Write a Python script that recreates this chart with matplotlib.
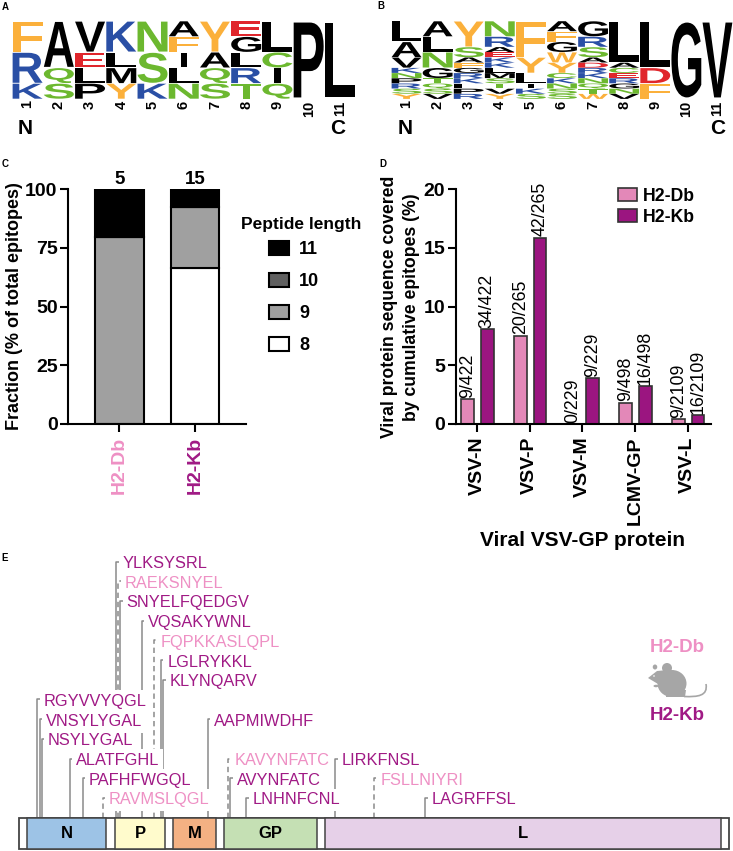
import matplotlib
matplotlib.use('Agg')
import matplotlib.pyplot as plt
from matplotlib.font_manager import FontProperties
from matplotlib.patches import PathPatch, Rectangle, Ellipse, Polygon
from matplotlib.path import Path
from matplotlib.textpath import TextPath
from matplotlib.transforms import Affine2D

plt.rcParams['font.family'] = ['Liberation Sans', 'DejaVu Sans']

W, H = 733, 851

# panel A, letters from top to bottom, counts out of 5 peptides
a_letters = ["FRK", "AQS", "VELP", "KLMY", "NSK", "AFILN", "YAQS", "EGLRT", "LCIQ", "P", "L"]
a_counts = [[2, 2, 1], [3, 1, 1], [2, 1, 1, 1], [2, 1, 1, 1], [2, 2, 1], [1, 1, 1, 1, 1],
            [2, 1, 1, 1], [1, 1, 1, 1, 1], [2, 1, 1, 1], [5], [5]]

# panel B, counts out of 15 peptides
b_letters = ["LAVKNPRSY", "ALNGTQSV", "YSAFGRKLPR", "NRAEKKLMSTVY", "FYLIKS", "AFGWYCKNSS",
             "GRSADRKNQTW", "LACERGNV", "LDF", "G", "V"]
b_counts = [[4, 3, 2, 1, 1, 1, 1, 1, 1], [3, 3, 3, 2, 1, 1, 1, 1],
            [5, 2, 1, 1, 1, 1, 1, 1, 1, 1], [3, 2, 1, 1, 1, 1, 1, 1, 1, 1, 1, 1],
            [7, 3, 2, 1, 1, 1], [2, 2, 2, 2, 2, 1, 1, 1, 1, 1],
            [3, 2, 2, 1, 1, 1, 1, 1, 1, 1, 1], [8, 1, 1, 1, 1, 1, 1, 1], [9, 3, 3], [15], [15]]

# panel C
alleles = ['H2-Db', 'H2-Kb']
epitope_n = [5, 15]
lengths = ['8', '9', '10', '11']
fractions = {'8': [0, 66.5], '9': [79.5, 26], '10': [0, 0], '11': [20.5, 7.5]}
length_colors = {'8': 'white', '9': '#a0a0a0', '10': '#606060', '11': 'black'}

# panel D
proteins = ['VSV-N', 'VSV-P', 'VSV-M', 'LCMV-GP', 'VSV-L']
cover_db = [2.1, 7.5, 0, 1.8, 0.4]
cover_kb = [8.05, 15.85, 3.9, 3.2, 0.75]
labels_db = ['9/422', '20/265', '0/229', '9/498', '9/2109']
labels_kb = ['34/422', '42/265', '9/229', '16/498', '16/2109']

# panel E
seg_names = ['N', 'P', 'M', 'GP', 'L']
seg_start = [27, 115, 173, 224, 325]
seg_end = [106, 165, 216, 317, 721]
seg_colors = ['#9dc3e6', '#fffbcc', '#f4b183', '#c5e0b4', '#e6d0e8']
pep_names = ['YLKSYSRL', 'RAEKSNYEL', 'SNYELFQEDGV', 'VQSAKYWNL', 'FQPKKASLQPL', 'LGLRYKKL', 'KLYNQARV',
             'RGYVVYQGL', 'VNSYLYGAL', 'NSYLYGAL', 'ALATFGHL', 'PAFHFWGQL', 'RAVMSLQGL',
             'AAPMIWDHF', 'KAVYNFATC', 'AVYNFATC', 'LNHNFCNL', 'LIRKFNSL', 'FSLLNIYRI', 'LAGRFFSL']
pep_allele = ['Kb', 'Db', 'Kb', 'Kb', 'Db', 'Kb', 'Kb', 'Kb', 'Kb', 'Kb', 'Kb', 'Kb', 'Db',
              'Kb', 'Db', 'Kb', 'Kb', 'Kb', 'Db', 'Kb']
pep_site = [116, 118, 120, 141.5, 153.7, 160.7, 163, 37.3, 39.5, 41.5, 69.5, 82.5, 102.5,
            207.7, 227.7, 230.3, 246, 335, 374, 425]
pep_level = [12, 11, 10, 9, 8, 7, 6, 5, 4, 3, 2, 1, 0, 4, 2, 1, 0, 2, 1, 0]

PINK = '#e388b8'
PURPLE = '#9b1580'
TXT_PINK = '#ee90c4'
TXT_PURPLE = '#a01a85'
letter_colors = {}
for c in 'FYW':
    letter_colors[c] = '#fbb03b'
for c in 'ALVGIMP':
    letter_colors[c] = 'black'
for c in 'RKH':
    letter_colors[c] = '#2a4fa5'
for c in 'NSQCT':
    letter_colors[c] = '#6cb82f'
for c in 'ED':
    letter_colors[c] = '#e0262c'

fig = plt.figure(figsize=(W / 100, H / 100), dpi=100)


def px_axes(left, top, right, bottom):
    return fig.add_axes([left / W, 1 - bottom / H, (right - left) / W, (bottom - top) / H])


def px_text(x, y, s, **kw):
    kw.setdefault('ha', 'center')
    kw.setdefault('va', 'center')
    return fig.text(x / W, 1 - y / H, s, **kw)


bold = FontProperties(family='Liberation Sans', weight='bold')


def logo(ax, letters, counts):
    total = sum(counts[0])
    for i in range(len(letters)):
        top = total
        for ch, n in zip(letters[i], counts[i]):
            tp = TextPath((0, 0), ch, size=1, prop=bold)
            bb = tp.get_extents()
            w = 0.2 if ch == 'I' else 0.96
            tr = (Affine2D().translate(-bb.x0, -bb.y0).scale(w / bb.width, n * 0.96 / bb.height)
                  .translate(i + 1 - w / 2, top - n + 0.02 * n))
            ax.add_patch(PathPatch(tp, transform=tr + ax.transData, fc=letter_colors[ch], lw=0))
            top -= n
    ax.set_xlim(0.5, 11.5)
    ax.set_ylim(0, total)
    ax.set_yticks([])
    ax.set_xticks(range(1, 12))
    ax.tick_params(axis='x', length=0, pad=1)
    for t in ax.get_xticklabels():
        t.set_rotation(90)
        t.set_fontsize(10.5)
        t.set_fontweight('bold')
    for s in ax.spines.values():
        s.set_visible(False)


ax_a = px_axes(12, 21, 355.5, 99)
logo(ax_a, a_letters, a_counts)
ax_b = px_axes(391, 21, 733, 99)
logo(ax_b, b_letters, b_counts)

for x, s in [(25, 'N'), (338, 'C'), (405, 'N'), (718, 'C')]:
    px_text(x, 129, s, fontsize=15, fontweight='bold')

for x, y, s in [(5, 7, 'A'), (381, 6, 'B'), (5, 164, 'C'), (383, 164, 'D'), (5, 558, 'E')]:
    px_text(x, y, s, fontsize=7, fontweight='bold')

# panel C
ax_c = px_axes(68, 189, 246, 424)
bottom = [0, 0]
for ln in lengths:
    ax_c.bar([0, 1], fractions[ln], 0.64, bottom=bottom, color=length_colors[ln], edgecolor='black', linewidth=1.5,
             label=ln)
    bottom = [bottom[0] + fractions[ln][0], bottom[1] + fractions[ln][1]]
ax_c.set_xlim(-0.682, 1.676)
ax_c.set_ylim(0, 100)
ax_c.set_yticks([0, 25, 50, 75, 100])
ax_c.set_xticks([0, 1])
ax_c.set_xticklabels(alleles, rotation=90, fontsize=14, fontweight='bold')
ax_c.get_xticklabels()[0].set_color(TXT_PINK)
ax_c.get_xticklabels()[1].set_color(TXT_PURPLE)
for i in range(2):
    ax_c.annotate(str(epitope_n[i]), (i, 100), xytext=(0, 0.5), textcoords='offset points', ha='center', va='bottom',
                  fontsize=13.5, fontweight='bold', annotation_clip=False)
px_text(15, 306, 'Fraction (% of total epitopes)', rotation=90, fontsize=13, fontweight='bold')
px_text(241, 225, 'Peptide length', ha='left', fontsize=12.5, fontweight='bold')
h, l = ax_c.get_legend_handles_labels()
ax_c.legend(h[::-1], l[::-1], loc='upper left', bbox_to_anchor=(269 / W, 1 - 241 / H), bbox_transform=fig.transFigure,
            frameon=False, borderpad=0, borderaxespad=0, handlelength=1.1, handleheight=0.85,
            labelspacing=0.8, handletextpad=0.58, prop={'size': 13, 'weight': 'bold'})

# panel D
ax_d = px_axes(455.7, 189, 711, 424)
xs = list(range(len(proteins)))
ax_d.bar([x - 0.18 for x in xs], cover_db, 0.24, color=PINK, edgecolor='#333333', linewidth=1.2, label='H2-Db')
ax_d.bar([x + 0.195 for x in xs], cover_kb, 0.24, color=PURPLE, edgecolor='#333333', linewidth=1.2, label='H2-Kb')
for x in xs:
    ax_d.annotate(labels_db[x], (x - 0.18, cover_db[x]), xytext=(0, 1), textcoords='offset points', rotation=90,
                  ha='center', va='bottom', fontsize=12.8, annotation_clip=False)
    ax_d.annotate(labels_kb[x], (x + 0.195, cover_kb[x]), xytext=(0, 1), textcoords='offset points', rotation=90,
                  ha='center', va='bottom', fontsize=12.8, annotation_clip=False)
ax_d.set_xlim(-0.404, 4.44)
ax_d.set_ylim(0, 20)
ax_d.set_yticks([0, 5, 10, 15, 20])
ax_d.set_xticks(xs)
ax_d.set_xticklabels(proteins, rotation=90, fontsize=14, fontweight='bold')
ax_d.legend(loc='upper left', bbox_to_anchor=(618 / W, 1 - 188 / H), bbox_transform=fig.transFigure, frameon=False,
            borderpad=0, borderaxespad=0, handlelength=1.05, handleheight=0.75, labelspacing=0.2, handletextpad=0.36,
            prop={'size': 12.7, 'weight': 'bold'})
px_text(400.5, 307, 'Viral protein sequence covered\nby cumulative epitopes (%)', rotation=90, fontsize=12.7,
        fontweight='bold', linespacing=1.4)
px_text(583, 541, 'Viral VSV-GP protein', fontsize=15, fontweight='bold')

for ax in [ax_c, ax_d]:
    ax.spines['top'].set_visible(False)
    ax.spines['right'].set_visible(False)
    ax.spines['left'].set_linewidth(1.5)
    ax.spines['bottom'].set_linewidth(1.5)
    ax.tick_params(axis='both', width=1.5, length=5.5, pad=2)
    ax.tick_params(axis='x', pad=3.5)
    for t in ax.get_yticklabels():
        t.set_fontsize(14)
        t.set_fontweight('bold')

# panel E, x is sequence position on the concatenated genome, y is label row
ax_e = px_axes(0, 555, 733, 851)
ax_e.set_xlim(0, W)
ax_e.set_ylim(-2.69, 12.33)
ax_e.axis('off')
genome_lo, genome_hi = -2.6, -1.02
ax_e.add_patch(Rectangle((19, genome_lo), 710, genome_hi - genome_lo, fc='white', ec='#444444', lw=1.3, zorder=3))
for i in range(len(seg_names)):
    ax_e.add_patch(Rectangle((seg_start[i], genome_lo), seg_end[i] - seg_start[i], genome_hi - genome_lo,
                             fc=seg_colors[i], ec='#444444', lw=1.1, zorder=4))
    ax_e.text((seg_start[i] + seg_end[i]) / 2, (genome_lo + genome_hi) / 2, seg_names[i], ha='center', va='center',
              fontsize=12, fontweight='bold', zorder=5)
for i in range(len(pep_names)):
    dashed = pep_allele[i] == 'Db'
    ax_e.plot([pep_site[i], pep_site[i], pep_site[i] + 5], [genome_hi, pep_level[i], pep_level[i]], color='#8a8a8a',
              lw=1.1, ls=(0, (3.5, 2.5)) if dashed else '-', zorder=1)
    ax_e.text(pep_site[i] + 6.5, pep_level[i] - 0.1, pep_names[i], color=TXT_PINK if dashed else TXT_PURPLE,
              fontsize=11.8, ha='left', va='center', zorder=2, bbox=dict(fc='white', ec='none', pad=2.8))

px_text(677, 648, 'H2-Db', color=TXT_PINK, fontsize=13.5, fontweight='bold')
px_text(677, 715, 'H2-Kb', color=TXT_PURPLE, fontsize=13.5, fontweight='bold')

# mouse icon
ax_m = px_axes(648, 663, 709, 698)
ax_m.set_xlim(0, 61)
ax_m.set_ylim(35, 0)
ax_m.axis('off')
GREY = '#a6a6a6'
ax_m.add_patch(Ellipse((24, 20.5), 29, 27, fc=GREY, ec='none'))
ax_m.add_patch(Polygon([[0, 15], [9, 8], [20, 7], [22, 22], [10, 21]], fc=GREY, ec='none'))
ax_m.add_patch(Ellipse((19, 5), 10, 10, fc=GREY, ec='none'))
ax_m.add_patch(Ellipse((7, 4), 4.5, 5, fc=GREY, ec='none'))
ax_m.add_patch(Polygon([[18, 34], [37, 34], [38, 27], [18, 27]], fc=GREY, ec='none'))
ax_m.add_patch(Ellipse((8, 23), 5, 2.5, fc=GREY, ec='none'))
ax_m.add_patch(Ellipse((6, 13), 1.6, 1.6, fc='white', ec='none'))
tail = Path([(36, 33.5), (50, 34), (60, 33), (58, 21)], [Path.MOVETO, Path.CURVE4, Path.CURVE4, Path.CURVE4])
ax_m.add_patch(PathPatch(tail, fc='none', ec=GREY, lw=1.2))

fig.savefig('out.png', dpi=100)
